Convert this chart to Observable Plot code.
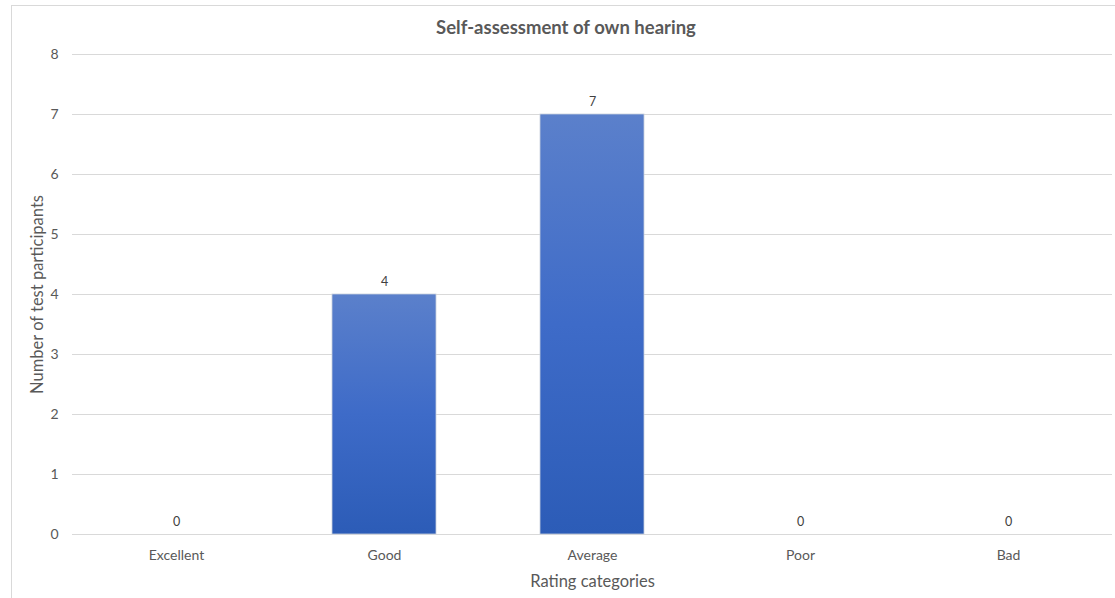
<!DOCTYPE html>
<html>
<head>
<meta charset="utf-8">
<script src="https://cdn.jsdelivr.net/npm/d3@7"></script>
<script src="https://cdn.jsdelivr.net/npm/@observablehq/plot@0.6"></script>
<style>
  html, body { margin: 0; padding: 0; background: #fff; }
  #wrap { position: relative; width: 1115px; height: 598px; overflow: hidden; font-family: Lato, "Open Sans", sans-serif; }
  #frame { position: absolute; left: 11px; top: 5px; width: 1120px; height: 610px; border: 1px solid #d9d9d9; box-sizing: border-box; }
  #title { position: absolute; left: 0; width: 1132px; top: 16px; text-align: center; font-size: 18.5px; font-weight: bold; color: #595959; }
  #plot { position: absolute; left: 0; top: 0; }
</style>
</head>
<body>
<div id="wrap">
  <div id="frame"></div>
  <div id="plot"></div>
  <div id="title">Self-assessment of own hearing</div>
</div>
<script>
const categories = ["Excellent", "Good", "Average", "Poor", "Bad"];
const counts = [0, 4, 7, 0, 0];
const yTicks = [0, 1, 2, 3, 4, 5, 6, 7, 8];

const data = categories.map((c, i) => ({category: c, count: counts[i]}));

const chart = Plot.plot({
  width: 1115,
  height: 598,
  marginTop: 54,
  marginBottom: 64,
  marginLeft: 72,
  marginRight: 3,
  style: {fontFamily: "Lato, 'Open Sans', sans-serif", fontSize: "14px", color: "#595959", background: "transparent"},
  x: {domain: categories, paddingInner: 0.5, paddingOuter: 0.25, label: null},
  y: {domain: [0, 8], ticks: yTicks, label: null},
  marks: [
    Plot.gridY(yTicks, {stroke: "#d9d9d9", strokeOpacity: 1}),
    Plot.barY(data, {x: "category", y: "count", fill: "url(#barGrad)", stroke: "#c9cfdc", strokeWidth: 0.8}),
    Plot.text(data, {x: "category", y: "count", text: d => String(d.count), dy: -13, fill: "#404040", fontSize: 12.5}),
    Plot.axisY(yTicks, {tickSize: 0, tickPadding: 14, tickFormat: d3.format("d"), fill: "#595959", fontSize: 14, label: null}),
    Plot.axisX({tickSize: 0, tickPadding: 16, fill: "#595959", fontSize: 14, label: null}),
    Plot.text(["Number of test participants"], {frameAnchor: "left", textAnchor: "middle", rotate: -90, dx: -35, fill: "#595959", fontSize: 16.5}),
    Plot.text(["Rating categories"], {frameAnchor: "bottom", dy: 52, fill: "#595959", fontSize: 16.5})
  ]
});

const ns = "http://www.w3.org/2000/svg";
const defs = document.createElementNS(ns, "defs");
defs.innerHTML = `<linearGradient id="barGrad" x1="0" y1="0" x2="0" y2="1">
  <stop offset="0%" stop-color="#5b80cb"/>
  <stop offset="50%" stop-color="#3e6bc8"/>
  <stop offset="100%" stop-color="#2c5cb7"/>
</linearGradient>`;
chart.insertBefore(defs, chart.firstChild);
document.getElementById("plot").appendChild(chart);
</script>
</body>
</html>
